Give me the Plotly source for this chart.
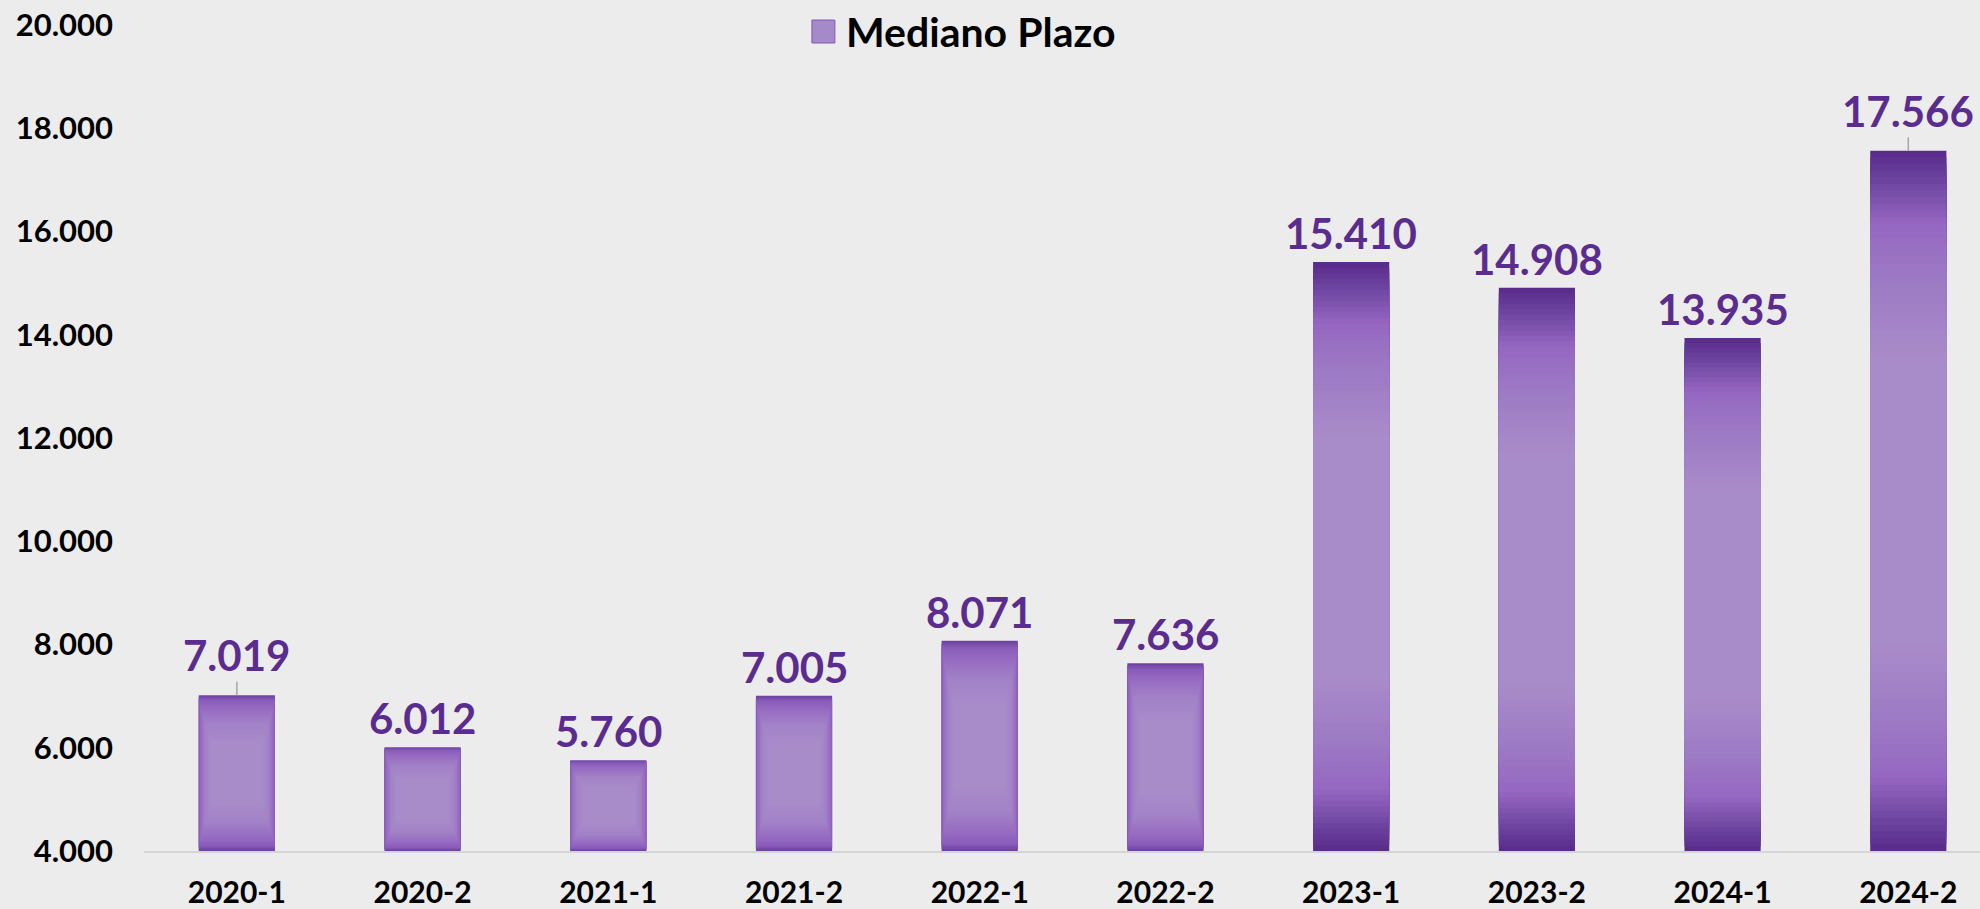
import plotly.graph_objects as go

# Semester periods and medium-term values
periods = ["2020-1", "2020-2", "2021-1", "2021-2", "2022-1",
           "2022-2", "2023-1", "2023-2", "2024-1", "2024-2"]
values = [7019, 6012, 5760, 7005, 8071, 7636, 15410, 14908, 13935, 17566]
series_name = "Mediano Plazo"

# Axis settings
Y_MIN, Y_MAX, Y_STEP = 4000, 20000, 2000

# Fill style per bar: soft radial shading for the early periods, vertical band for the later ones
shading = ["radial"] * 6 + ["linear"] * 4
# Labels lifted a bit higher with a thin leader line
leader_labels = {"2020-1", "2024-2"}

FONT = "Lato"
LABEL_COLOR = "#5b2c8f"
BAR_WIDTH = 0.41

# Colour profiles from the bar ends inward (u = distance from end / bar height)
linear_stops = [
    (0.00, (0x5a, 0x2d, 0x8d)),
    (0.04, (0x6d, 0x45, 0xa0)),
    (0.10, (0x95, 0x67, 0xc1)),
    (0.17, (0x9c, 0x78, 0xc4)),
    (0.29, (0xa8, 0x8b, 0xc9)),
    (0.50, (0xa9, 0x8c, 0xca)),
]
radial_stops = [
    (0.00, (0x6e, 0x43, 0xa2)),
    (0.03, (0x8a, 0x5c, 0xbb)),
    (0.08, (0x96, 0x6a, 0xc1)),
    (0.18, (0xa2, 0x82, 0xc7)),
    (0.30, (0xa8, 0x8b, 0xc9)),
    (0.50, (0xa9, 0x8c, 0xca)),
]
# Horizontal inset (fraction of bar width per side) for radial shading
hstops = [(0.00, 0.0), (0.03, 0.0), (0.08, 0.02), (0.18, 0.08), (0.30, 0.16), (0.50, 0.22)]


def interp(stops_, u):
    for (u0, c0), (u1, c1) in zip(stops_, stops_[1:]):
        if u0 <= u <= u1:
            t = (u - u0) / (u1 - u0) if u1 > u0 else 0
            if isinstance(c0, tuple):
                return tuple(a + (b - a) * t for a, b in zip(c0, c1))
            return c0 + (c1 - c0) * t
    return stops_[-1][1]


def rgb(c):
    return f"rgb({c[0]:.0f},{c[1]:.0f},{c[2]:.0f})"


fig = go.Figure()

n_layers = 32
for k in range(n_layers):
    u = k * 0.0095
    bases, heights, widths, colors = [], [], [], []
    for v, s in zip(values, shading):
        h = v - Y_MIN
        bases.append(Y_MIN + u * h)
        heights.append(h * (1 - 2 * u))
        if s == "radial":
            widths.append(BAR_WIDTH * (1 - 2 * interp(hstops, u)))
            colors.append(rgb(interp(radial_stops, u)))
        else:
            widths.append(BAR_WIDTH)
            colors.append(rgb(interp(linear_stops, u)))
    fig.add_trace(go.Bar(
        x=periods, y=heights, base=bases, width=widths,
        marker=dict(color=colors, line=dict(width=0)),
        name=series_name, showlegend=False, hoverinfo="skip",
    ))

# Value labels
for p, v in zip(periods, values):
    text = f"{v:,}".replace(",", ".")
    if p in leader_labels:
        fig.add_annotation(
            x=p, y=v, text=text, showarrow=True, ax=0, ay=-40,
            arrowhead=0, arrowwidth=1.5, arrowcolor="#a6a6a6", standoff=0,
            font=dict(family=FONT, size=42, color=LABEL_COLOR, weight="bold"),
        )
    else:
        fig.add_annotation(
            x=p, y=v, text=text, showarrow=False, yanchor="middle", yshift=29,
            font=dict(family=FONT, size=42, color=LABEL_COLOR, weight="bold"),
        )

# Legend entry
fig.add_shape(type="rect", xref="paper", yref="paper",
              x0=0.3638, x1=0.3763, y0=0.9782, y1=1.006,
              fillcolor="#a58ac9", line=dict(color="#7f56b4", width=1))
fig.add_annotation(xref="paper", yref="paper", x=0.3815, y=0.9927,
                   xanchor="left", yanchor="middle", showarrow=False,
                   text=series_name,
                   font=dict(family=FONT, size=41, color="#000000", weight="bold"))

fig.update_layout(
    template="none",
    width=1980, height=909,
    margin=dict(l=144, r=0, t=25, b=58),
    paper_bgcolor="#ececec",
    plot_bgcolor="rgba(0,0,0,0)",
    barmode="overlay",
    showlegend=False,
    separators=",.",
    xaxis=dict(
        type="category", range=[-0.5, 9.386], showgrid=False, zeroline=False,
        showline=True, linecolor="#d4d4d4", linewidth=2, ticks="",
        tickfont=dict(family=FONT, size=30, color="#000000", weight="bold"),
        ticklabelstandoff=14, automargin=False,
    ),
    yaxis=dict(
        range=[Y_MIN, Y_MAX], dtick=Y_STEP, tick0=Y_MIN, showgrid=False,
        zeroline=False, showline=False, ticks="", tickformat=",d",
        tickfont=dict(family=FONT, size=31, color="#000000", weight="bold"),
        ticklabelstandoff=30, automargin=False,
    ),
)

fig.write_html("out.html")
